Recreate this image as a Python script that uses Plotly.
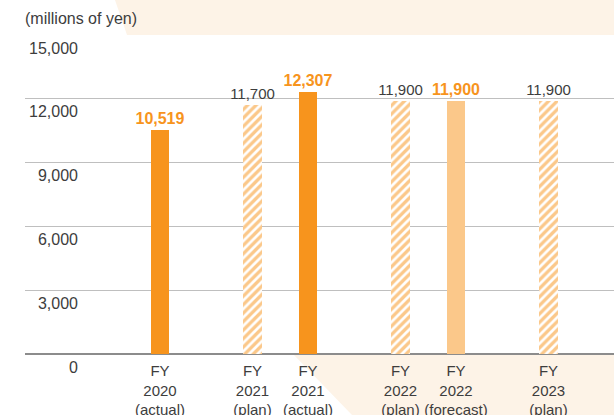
import plotly.graph_objects as go

# ---- data ----
categories = ["FY<br>2020<br>(actual)", "FY<br>2021<br>(plan)", "FY<br>2021<br>(actual)",
              "FY<br>2022<br>(plan)", "FY<br>2022<br>(forecast)", "FY<br>2023<br>(plan)"]
values = [10519, 11700, 12307, 11900, 11900, 11900]
kinds = ["actual", "plan", "actual", "plan", "forecast", "plan"]
y_ticks = [0, 3000, 6000, 9000, 12000, 15000]

# ---- layout helpers (positions / styles) ----
W, H = 614, 415
slots = [0, 5, 8, 13, 16, 21]          # horizontal slot of each bar on the x scale
ORANGE = "#F7941D"
LIGHT = "#FBC88A"
CREAM = "#FDF3E7"
TEXT = "#3d3d3d"
FONT = "Liberation Sans, Arial, sans-serif"

fig = go.Figure()

styles = {
    "actual": dict(marker=dict(color=ORANGE, line=dict(width=0)),
                   textfont=dict(color=ORANGE, size=16, family=FONT, weight="bold")),
    "forecast": dict(marker=dict(color=LIGHT, line=dict(width=0)),
                     textfont=dict(color=ORANGE, size=16, family=FONT, weight="bold")),
    "plan": dict(marker=dict(color=LIGHT, line=dict(width=0),
                             pattern=dict(shape="/", fgcolor="white", bgcolor=LIGHT,
                                          size=6, solidity=0.45, fillmode="replace")),
                 textfont=dict(color=TEXT, size=15, family=FONT)),
}

for kind in ["actual", "plan", "forecast"]:
    idx = [i for i, k in enumerate(kinds) if k == kind]
    fig.add_trace(go.Bar(
        x=[slots[i] for i in idx],
        y=[values[i] for i in idx],
        text=[f"{values[i]:,}" for i in idx],
        textposition="outside",
        constraintext="none",
        cliponaxis=False,
        width=1.02,
        hoverinfo="skip",
        showlegend=False,
        **styles[kind],
    ))

# background bands (decorative, outside the plot area)
top = 354 / 319
bot = -61 / 319
fig.add_shape(type="path", xref="paper", yref="paper", layer="below",
              path=f"M {115/W},{top} L 1.01,{top} L 1.01,1 L {127/W},1 Z",
              fillcolor=CREAM, line=dict(width=0))
fig.add_shape(type="path", xref="paper", yref="paper", layer="below",
              path=f"M {293/W},0 L 1.01,0 L 1.01,{bot} L {352/W},{bot} Z",
              fillcolor=CREAM, line=dict(width=0))

unit = 18.5
x0 = -(160 - 25) / unit
fig.update_layout(
    width=W, height=H,
    margin=dict(l=0, r=0, t=35, b=61, autoexpand=False),
    paper_bgcolor="white", plot_bgcolor="white",
    font=dict(family=FONT, color=TEXT, size=16),
    title=dict(text="(millions of yen)", x=25 / W, xanchor="left", xref="paper",
               y=1 - 18 / H, yanchor="middle",
               font=dict(size=16, color=TEXT, family=FONT)),
    bargap=0,
    xaxis=dict(domain=[25 / W, 1], range=[x0, x0 + 589 / unit],
               tickmode="array", tickvals=slots, ticktext=categories,
               showgrid=False, zeroline=False, showline=False, ticks="",
               ticklabelstandoff=6,
               tickfont=dict(size=15, color=TEXT, family=FONT),
               fixedrange=True),
    yaxis=dict(range=[0, 15000], tickmode="array", tickvals=y_ticks,
               tickformat=",d", showgrid=True, gridcolor="#bfbfbf", gridwidth=1.3,
               zeroline=True, zerolinecolor="#8c8c8c", zerolinewidth=2,
               showline=False, ticks="",
               ticklabelposition="outside", ticklabelstandoff=-54, ticklabelshift=13,
               tickfont=dict(size=16, color=TEXT, family=FONT),
               fixedrange=True),
)

fig.write_html("out.html", config={"displayModeBar": False},
               post_script="document.body.style.margin='0';document.body.style.padding='0';")
